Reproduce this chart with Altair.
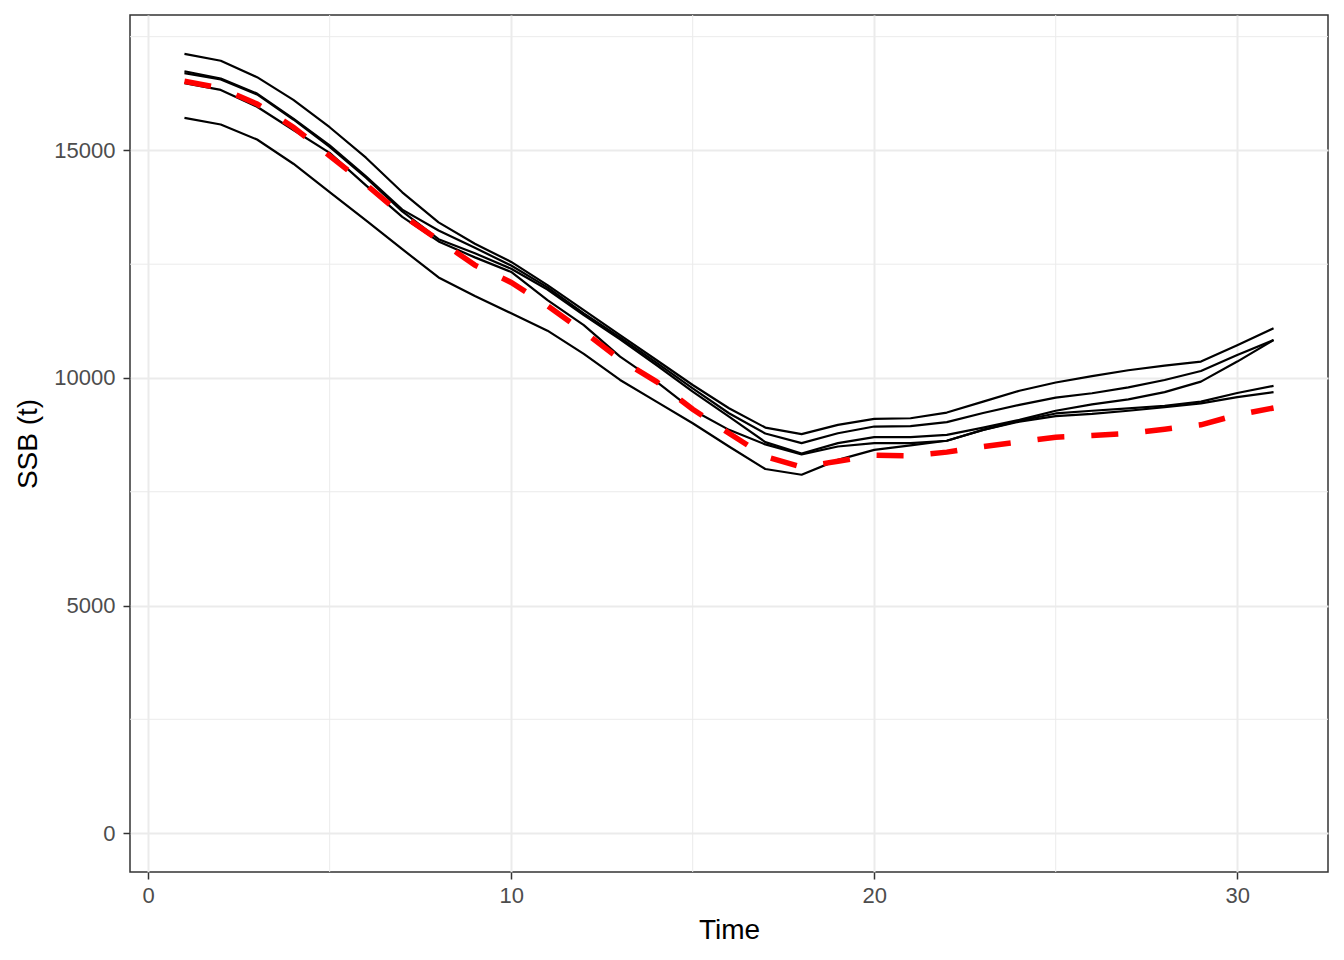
import altair as alt
import pandas as pd

# ---- data ----
time = list(range(1, 32))

run1 = [17120, 16970, 16610, 16110, 15510, 14840, 14080, 13420, 12950, 12550, 12040, 11490, 10940, 10395, 9846, 9335,
        8910, 8765, 8969, 9100, 9115, 9240, 9480, 9720, 9900, 10040, 10170, 10270, 10360, 10720, 11090]
run2 = [16740, 16580, 16250, 15700, 15110, 14430, 13700, 13240, 12860, 12470, 11990, 11420, 10890, 10336, 9773, 9225,
        8780, 8567, 8786, 8933, 8940, 9030, 9230, 9408, 9569, 9664, 9795, 9956, 10154, 10504, 10833]
run3 = [16700, 16560, 16230, 15680, 15080, 14400, 13660, 13050, 12740, 12400, 11944, 11382, 10848, 10285, 9700, 9152,
        8590, 8340, 8567, 8700, 8700, 8750, 8910, 9080, 9280, 9420, 9530, 9690, 9920, 10360, 10833]
run4 = [16480, 16330, 15960, 15450, 14945, 14232, 13540, 13000, 12650, 12330, 11710, 11162, 10468, 9920, 9298, 8860,
        8540, 8320, 8494, 8567, 8567, 8620, 8860, 9060, 9220, 9280, 9330, 9390, 9480, 9670, 9825]
run5 = [15716, 15570, 15240, 14708, 14086, 13465, 12830, 12210, 11800, 11420, 11040, 10530, 9956, 9481, 9006, 8494,
        8000, 7873, 8200, 8420, 8520, 8620, 8860, 9040, 9160, 9210, 9280, 9360, 9440, 9580, 9690]
red_ssb = [16520, 16370, 16020, 15510, 14880, 14250, 13580, 13030, 12480, 12100, 11590, 11016, 10409, 9920, 9313, 8786,
           8275, 8041, 8170, 8300, 8289, 8370, 8494, 8596, 8699, 8735, 8779, 8874, 8970, 9190, 9340]

x_major = [0, 10, 20, 30]
x_minor = [5, 15, 25]
y_major = [0, 5000, 10000, 15000]
y_minor = [2500, 7500, 12500, 17500]
x_domain = [-0.5, 32.5]
y_domain = [-856, 17976]

# ---- tables ----
runs = {"r1": run1, "r2": run2, "r3": run3, "r4": run4, "r5": run5}
black = pd.DataFrame(
    [{"Time": t, "SSB": v, "run": k} for k, vals in runs.items() for t, v in zip(time, vals)]
)
red = pd.DataFrame({"Time": time, "SSB": red_ssb})
xmin_df = pd.DataFrame({"x": x_minor})
ymin_df = pd.DataFrame({"y": y_minor})

FONT = "Liberation Sans"
W, H = 1198, 857

xscale = alt.Scale(domain=x_domain, nice=False, zero=False)
yscale = alt.Scale(domain=y_domain, nice=False, zero=False)

xaxis = alt.Axis(values=x_major, title="Time", grid=True, gridColor="#EBEBEB", gridWidth=2,
                 domain=False, tickColor="#333333", tickWidth=1.5, tickSize=7, format="d",
                 labelFont=FONT, labelFontSize=22, labelColor="#4D4D4D", labelPadding=6,
                 titleFont=FONT, titleFontSize=28, titleColor="#000000", titleFontWeight="normal",
                 titleX=W / 2, titleY=66, titleBaseline="alphabetic", titleAlign="center")
yaxis = alt.Axis(values=y_major, title="SSB (t)", grid=True, gridColor="#EBEBEB", gridWidth=2,
                 domain=False, tickColor="#333333", tickWidth=1.5, tickSize=7, format="d",
                 labelFont=FONT, labelFontSize=22, labelColor="#4D4D4D", labelPadding=8,
                 titleFont=FONT, titleFontSize=28, titleColor="#000000", titleFontWeight="normal",
                 titleX=-102, titleY=H / 2, titleAngle=270, titleAlign="center", titleBaseline="middle")

minor_x = alt.Chart(xmin_df).mark_rule(color="#EBEBEB", strokeWidth=1).encode(
    x=alt.X("x:Q", scale=xscale, axis=xaxis)
)
minor_y = alt.Chart(ymin_df).mark_rule(color="#EBEBEB", strokeWidth=1).encode(
    y=alt.Y("y:Q", scale=yscale, axis=yaxis)
)

black_lines = alt.Chart(black).mark_line(color="black", strokeWidth=2.2, strokeJoin="round", strokeCap="butt").encode(
    x=alt.X("Time:Q", scale=xscale, axis=xaxis),
    y=alt.Y("SSB:Q", scale=yscale, axis=yaxis),
    detail="run:N",
)

red_line = alt.Chart(red).mark_line(color="#FF0000", strokeWidth=5.5, strokeDash=[27, 27], strokeCap="butt").encode(
    x=alt.X("Time:Q", scale=xscale, axis=xaxis),
    y=alt.Y("SSB:Q", scale=yscale, axis=yaxis),
)

chart = alt.layer(minor_x, minor_y, black_lines, red_line).properties(
    width=W, height=H,
    autosize=alt.AutoSizeParams(type="none"),
    padding={"left": 122, "top": 7, "right": 8, "bottom": 80},
    background="white",
).configure_view(stroke="#333333", strokeWidth=1.5)

chart.save("out.html", embed_options={"renderer": "svg", "actions": False})
